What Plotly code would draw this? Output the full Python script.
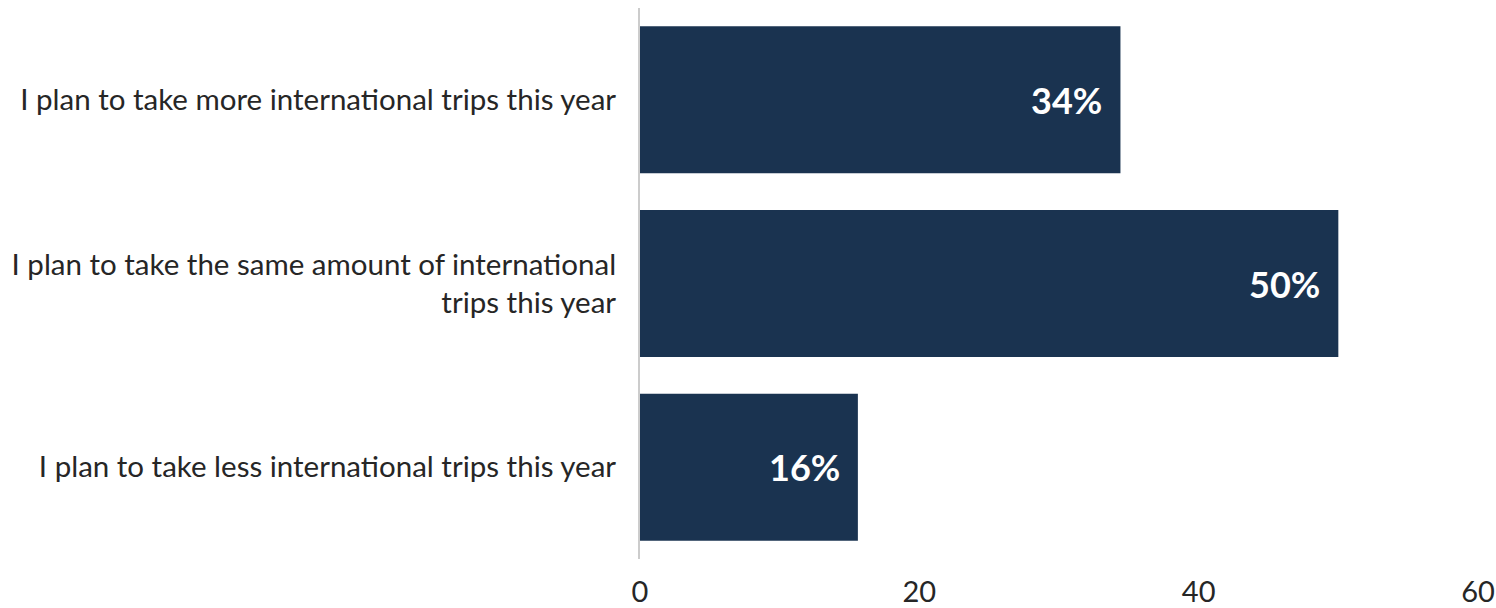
import plotly.graph_objects as go

categories = [
    "I plan to take more international trips this year",
    "I plan to take the same amount of international<br>trips this year",
    "I plan to take less international trips this year",
]
values = [34.4, 50.0, 15.6]
labels = ["34%", "50%", "16%"]
x_ticks = [0, 20, 40, 60]

bar_color = "#1a3350"
text_color = "#262626"
font_family = "Lato, 'Open Sans', sans-serif"

fig = go.Figure()
fig.add_trace(go.Bar(
    y=categories,
    x=values,
    orientation="h",
    marker=dict(color=bar_color, line=dict(width=0)),
    hoverinfo="skip",
))

for c, v, t in zip(categories, values, labels):
    fig.add_annotation(
        x=v, y=c, xref="x", yref="y", text="<b>%s</b>" % t,
        showarrow=False, xanchor="right", xshift=-16,
        font=dict(family=font_family, size=36, color="white"),
    )

fig.update_layout(
    width=1496, height=608,
    margin=dict(l=640, r=18, t=8, b=49, autoexpand=False),
    paper_bgcolor="white", plot_bgcolor="white",
    showlegend=False,
    bargap=0.2,
    font=dict(family=font_family, size=29.5, color=text_color),
)
fig.update_xaxes(
    range=[0, 60], tickvals=x_ticks, ticktext=[str(v) for v in x_ticks],
    showgrid=False, zeroline=False, showline=False,
    ticklabelstandoff=13,
    tickfont=dict(size=29, color=text_color),
)
fig.update_yaxes(
    categoryorder="array", categoryarray=categories[::-1],
    autorange=True,
    showgrid=False, zeroline=False,
    showline=True, linecolor="#cccccc", linewidth=2,
    ticklabelstandoff=16,
    tickfont=dict(size=29.5, color=text_color),
)

fig.write_html("out.html")
